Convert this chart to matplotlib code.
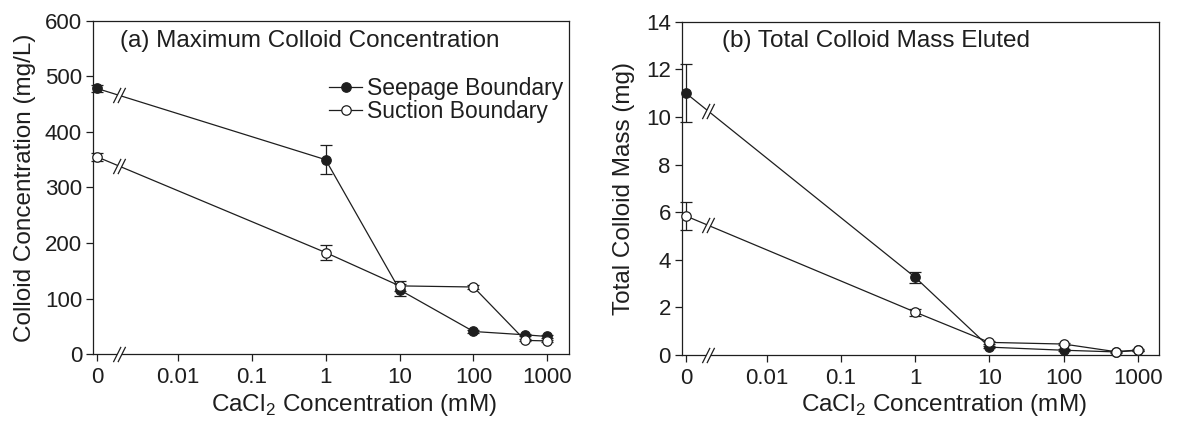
import numpy as np
import matplotlib
matplotlib.use("Agg")
import matplotlib.pyplot as plt
from matplotlib.lines import Line2D
from matplotlib.path import Path
from matplotlib.ticker import FixedLocator, FixedFormatter, NullLocator

# CaCl2 concentration of the eluent (mM); 0 is the CaCl2-free run
conc = [0, 1, 10, 100, 500, 1000]

# (a) maximum colloid concentration (mg/L)
max_seepage = [478, 350, 116, 41, 35, 32]
max_seepage_err = [7, 26, 11, 3, 2, 2]
max_suction = [355, 183, 123, 121, 25, 24]
max_suction_err = [7, 14, 9, 3, 2, 2]

# (b) total colloid mass eluted (mg)
mass_seepage = [11.0, 3.26, 0.33, 0.20, 0.13, 0.19]
mass_seepage_err = [1.22, 0.23, 0.05, 0.04, 0.03, 0.03]
mass_suction = [5.84, 1.80, 0.53, 0.46, 0.14, 0.21]
mass_suction_err = [0.60, 0.15, 0.05, 0.05, 0.03, 0.03]

xtick_values = [0, 0.01, 0.1, 1, 10, 100, 1000]
xtick_labels = ["0", "0.01", "0.1", "1", "10", "100", "1000"]

plt.rcParams["font.family"] = ["Liberation Sans", "DejaVu Sans"]
plt.rcParams["mathtext.fontset"] = "custom"
plt.rcParams["mathtext.rm"] = "Liberation Sans"

INK = "#1e1e1e"
TICK_FS = 16
LABEL_FS = 17.5

# --- broken log axis: zero sits just left of the log decades -------------
ZERO_POS = -3.09          # axis position (in decades) of c = 0
LIN_EDGE = 1e-3           # below this the axis is linear
EDGE_POS = np.log10(LIN_EDGE)
BREAK_POS = -2.79         # where the "//" marks go


def forward(c):
    c = np.asarray(c, dtype=float)
    safe = np.where(c > LIN_EDGE, c, LIN_EDGE)
    lin = ZERO_POS + c / LIN_EDGE * (EDGE_POS - ZERO_POS)
    return np.where(c > LIN_EDGE, np.log10(safe), lin)


def inverse(p):
    p = np.asarray(p, dtype=float)
    safe = np.clip(p, EDGE_POS, 300)
    lin = (p - ZERO_POS) / (EDGE_POS - ZERO_POS) * LIN_EDGE
    return np.where(p > EDGE_POS, 10.0 ** safe, lin)


# "//" break symbol and the white patch that cuts the line between strokes
SLASH = Path([(-0.8, -1), (0.2, 1), (-0.2, -1), (0.8, 1)],
             [Path.MOVETO, Path.LINETO, Path.MOVETO, Path.LINETO])
GAP = Path([(-0.8, -1), (0.2, 1), (0.8, 1), (-0.2, -1), (-0.8, -1)],
           [Path.MOVETO, Path.LINETO, Path.LINETO, Path.LINETO, Path.CLOSEPOLY])
BREAK_MS = 11


def draw_break(ax, x, y, transform=None):
    kw = dict(clip_on=False, linestyle="none")
    if transform is not None:
        kw["transform"] = transform
    ax.plot([x], [y], marker=GAP, ms=BREAK_MS, mfc="white", mec="none",
            zorder=6, **kw)
    ax.plot([x], [y], marker=SLASH, ms=BREAK_MS, mfc="none", mec=INK,
            mew=0.9, zorder=7, **kw)


def style_axes(ax, ylim, yticks):
    ax.set_xscale("function", functions=(forward, inverse))
    ax.set_xlim(inverse(-3.143), inverse(3.29))
    ax.xaxis.set_major_locator(FixedLocator(xtick_values))
    ax.xaxis.set_major_formatter(FixedFormatter(xtick_labels))
    ax.xaxis.set_minor_locator(NullLocator())
    ax.set_ylim(*ylim)
    ax.set_yticks(yticks)
    ax.tick_params(axis="both", direction="out", length=5, width=0.9,
                   labelsize=TICK_FS, colors=INK, pad=3)
    ax.tick_params(axis="x", pad=4)
    for s in ax.spines.values():
        s.set_linewidth(0.9)
        s.set_color(INK)
    ax.set_xlabel(r"CaCl$_\mathregular{2}$ Concentration (mM)",
                  fontsize=LABEL_FS, color=INK)
    # axis break on the bottom spine
    draw_break(ax, inverse(BREAK_POS), 0, transform=ax.get_xaxis_transform())


def plot_series(ax, y, err, face):
    ax.errorbar(conc, y, yerr=err, fmt="-o", color=INK, lw=0.9, ms=6.8,
                mfc=face, mec=INK, mew=0.9, ecolor=INK, elinewidth=0.9,
                capsize=4, capthick=0.9, clip_on=False, zorder=4)
    # break mark on the segment joining c = 0 and the first CaCl2 point
    p0, p1 = forward(conc[0]), forward(conc[1])
    t = (BREAK_POS - p0) / (p1 - p0)
    draw_break(ax, inverse(BREAK_POS), y[0] + t * (y[1] - y[0]))


fig = plt.figure(figsize=(11.77, 4.25), dpi=100)
ax_a = fig.add_axes([0.0792, 0.1664, 0.4041, 0.785])
ax_b = fig.add_axes([0.5794, 0.1647, 0.4057, 0.7842])

# (a) maximum colloid concentration
style_axes(ax_a, (0, 600), range(0, 601, 100))
plot_series(ax_a, max_seepage, max_seepage_err, INK)
plot_series(ax_a, max_suction, max_suction_err, "white")
ax_a.set_ylabel("Colloid Concentration (mg/L)", fontsize=LABEL_FS, color=INK)
ax_a.yaxis.set_label_coords(-0.120, 0.5)
ax_a.xaxis.set_label_coords(0.548, -0.113)
ax_a.text(0.0564, 0.921, "(a) Maximum Colloid Concentration",
          transform=ax_a.transAxes, fontsize=LABEL_FS, color=INK,
          ha="left", va="baseline")

handles = [
    Line2D([], [], color=INK, lw=0.9, marker="o", ms=6.8, mfc=INK, mec=INK,
           mew=0.9),
    Line2D([], [], color=INK, lw=0.9, marker="o", ms=6.8, mfc="white",
           mec=INK, mew=0.9),
]
ax_a.legend(handles, ["Seepage Boundary", "Suction Boundary"],
            loc="upper left", bbox_to_anchor=(0.496, 0.830), frameon=False,
            fontsize=16.5, borderpad=0, borderaxespad=0, labelspacing=0.0,
            handlelength=1.45, handletextpad=0.2, labelcolor=INK)

# (b) total colloid mass eluted
style_axes(ax_b, (0, 14), range(0, 15, 2))
plot_series(ax_b, mass_seepage, mass_seepage_err, INK)
plot_series(ax_b, mass_suction, mass_suction_err, "white")
ax_b.set_ylabel("Total Colloid Mass (mg)", fontsize=LABEL_FS, color=INK)
ax_b.yaxis.set_label_coords(-0.098, 0.5)
ax_b.xaxis.set_label_coords(0.549, -0.111)
ax_b.text(0.083, 0.924, "(b) Total Colloid Mass Eluted",
          transform=ax_b.transAxes, fontsize=LABEL_FS, color=INK,
          ha="left", va="baseline")

fig.savefig("out.png", dpi=100)
